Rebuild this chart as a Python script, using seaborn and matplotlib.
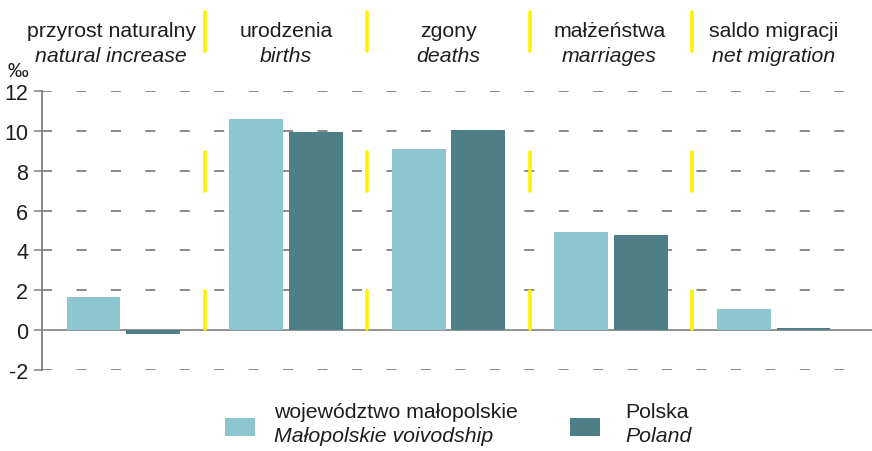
import matplotlib
matplotlib.use("Agg")
import matplotlib.pyplot as plt
import matplotlib.transforms as mtransforms
from matplotlib.patches import Rectangle
import seaborn as sns
import pandas as pd

# ---- data ----
categories_pl = ["przyrost naturalny", "urodzenia", "zgony", "małżeństwa", "saldo migracji"]
categories_en = ["natural increase", "births", "deaths", "marriages", "net migration"]
malopolskie = [1.66, 10.6, 9.1, 4.92, 1.05]
polska = [-0.18, 9.95, 10.05, 4.77, 0.12]
series_pl = ["województwo małopolskie", "Polska"]
series_en = ["Małopolskie voivodship", "Poland"]
yticks = [-2, 0, 2, 4, 6, 8, 10, 12]
unit_label = "‰"

LIGHT = "#8DC6D0"
DARK = "#4E7F86"
YELLOW = "#FFF200"
GRID = "#6A6A6A"
TEXT = "#1E1E1E"

sns.set_theme(style="white")
plt.rcParams["font.family"] = ["Liberation Sans", "DejaVu Sans"]
plt.rcParams["lines.scale_dashes"] = False

df = pd.DataFrame({
    "category": categories_pl * 2,
    "value": malopolskie + polska,
    "region": [series_pl[0]] * len(categories_pl) + [series_pl[1]] * len(categories_pl),
})

AX_L, AX_R = 42, 855
fig = plt.figure(figsize=(8.72, 4.52), dpi=100)
ax = fig.add_axes([AX_L / 872, 1 - 371 / 452, (AX_R - AX_L) / 872, (371 - 92) / 452])

# gridlines (dashed) behind bars
for yv in yticks:
    if yv == 0:
        continue
    ax.axhline(yv, color=GRID, lw=1.1, linestyle=(0, (7.2, 17.6)), dash_capstyle="butt", zorder=0)

# zero line runs to the right edge of the figure
ax.axhline(0, xmin=0, xmax=(872 - AX_L) / (AX_R - AX_L), color="#8A8A8A", lw=1.3,
           zorder=1, clip_on=False)

sns.barplot(data=df, x="category", y="value", hue="region", order=categories_pl,
            hue_order=series_pl, palette=[LIGHT, DARK], saturation=1,
            width=0.735, gap=0.1, legend=False, ax=ax, zorder=2, errorbar=None,
            linewidth=0, edgecolor="none")

ax.set_xlim(-0.5, len(categories_pl) - 0.5)
ax.set_ylim(-2, 12)
ax.set_yticks(yticks)
ax.set_yticklabels([str(t) for t in yticks], fontsize=15.5, color=TEXT)
ax.tick_params(axis="y", direction="out", length=6, width=1.1, color="#808080", pad=4, left=True)
ax.tick_params(axis="x", bottom=False, labelbottom=False)
ax.set_xlabel("")
ax.set_ylabel("")
for s in ["top", "right", "bottom"]:
    ax.spines[s].set_visible(False)
ax.spines["left"].set_color("#808080")
ax.spines["left"].set_linewidth(1.3)

# yellow separators between categories
for i in range(len(categories_pl) - 1):
    xs = i + 0.5
    for y0, y1 in [(0.05, 1.95), (7.0, 8.95), (14.0, 15.95)]:
        ax.plot([xs, xs], [y0, y1], color=YELLOW, lw=2.6, solid_capstyle="round",
                clip_on=False, zorder=4)

# category headers
trans = mtransforms.blended_transform_factory(ax.transData, fig.transFigure)
header_shift = [-0.075, 0, 0, -0.01, 0]
for i, (pl, en) in enumerate(zip(categories_pl, categories_en)):
    xc = i + header_shift[i]
    ax.text(xc, 1 - 37 / 452, pl, transform=trans, ha="center", va="baseline",
            fontsize=15.3, color=TEXT)
    ax.text(xc, 1 - 62 / 452, en, transform=trans, ha="center", va="baseline",
            fontsize=15.3, style="italic", color=TEXT)

fig.text(7 / 872, 1 - 77 / 452, unit_label, ha="left", va="baseline", fontsize=15, color=TEXT)

# legend
colors = [LIGHT, DARK]
patch_x = [225, 570]
text_x = [274, 625]
for c, px, tx, pl, en in zip(colors, patch_x, text_x, series_pl, series_en):
    fig.add_artist(Rectangle((px / 872, 1 - 437 / 452), 30 / 872, 18 / 452,
                             transform=fig.transFigure, facecolor=c, edgecolor="none"))
    fig.text(tx / 872, 1 - 418 / 452, pl, ha="left", va="baseline", fontsize=15.3, color=TEXT)
    fig.text(tx / 872, 1 - 442 / 452, en, ha="left", va="baseline", fontsize=15.3,
             style="italic", color=TEXT)

fig.savefig("out.png", dpi=100)
